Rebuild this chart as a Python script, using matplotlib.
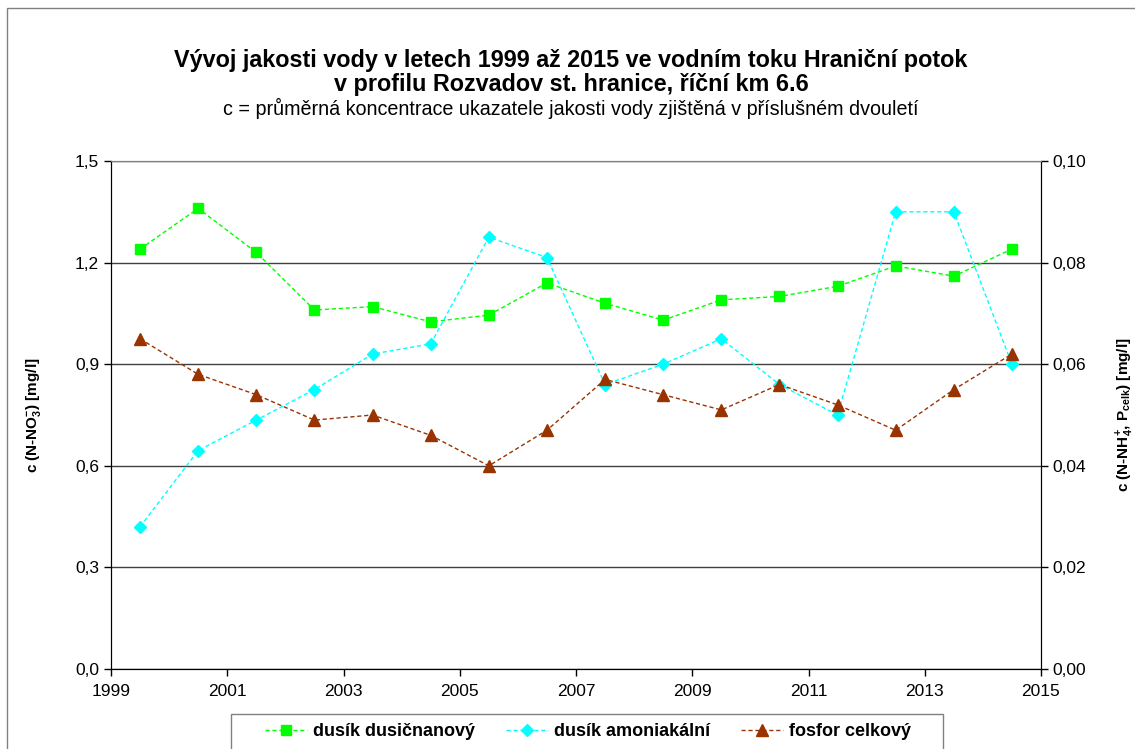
import matplotlib
matplotlib.use("Agg")
import matplotlib.pyplot as plt
from matplotlib.patches import Rectangle
from matplotlib.ticker import FuncFormatter, MultipleLocator

plt.rcParams['font.family'] = ['Liberation Sans', 'DejaVu Sans']
plt.rcParams['mathtext.default'] = 'regular'

years = [1999.5, 2000.5, 2001.5, 2002.5, 2003.5, 2004.5, 2005.5, 2006.5,
         2007.5, 2008.5, 2009.5, 2010.5, 2011.5, 2012.5, 2013.5, 2014.5]
dusicnanovy = [1.24, 1.36, 1.23, 1.06, 1.07, 1.025, 1.045, 1.14,
               1.08, 1.03, 1.09, 1.10, 1.13, 1.19, 1.16, 1.24]
amoniakalni = [0.028, 0.043, 0.049, 0.055, 0.062, 0.064, 0.085, 0.081,
               0.056, 0.060, 0.065, 0.056, 0.050, 0.090, 0.090, 0.060]
fosfor = [0.065, 0.058, 0.054, 0.049, 0.050, 0.046, 0.040, 0.047,
          0.057, 0.054, 0.051, 0.056, 0.052, 0.047, 0.055, 0.062]

xticks = list(range(1999, 2016, 2))

W, H = 1135, 749
fig = plt.figure(figsize=(W/100, H/100), dpi=100)
ax = fig.add_axes([111/W, 1-669/H, 930/W, 508/H])
ax2 = ax.twinx()

dash = (0, (3, 2))
l1, = ax.plot(years, dusicnanovy, color='#00FF00', linestyle=dash, lw=1,
              marker='s', ms=7.5, label='dusík dusičnanový', zorder=3)
l2, = ax2.plot(years, amoniakalni, color='#00FFFF', linestyle=dash, lw=1,
               marker='D', ms=6, label='dusík amoniakální', zorder=3)
l3, = ax2.plot(years, fosfor, color='#993300', linestyle=dash, lw=1,
               marker='^', ms=8, label='fosfor celkový', zorder=3)

ax.set_xlim(1999, 2015)
ax.set_ylim(0, 1.5)
ax2.set_ylim(0, 0.10)
ax.set_xticks(xticks)
ax.yaxis.set_major_locator(MultipleLocator(0.3))
ax2.yaxis.set_major_locator(MultipleLocator(0.02))
ax.yaxis.set_major_formatter(FuncFormatter(lambda v, p: f"{v:.1f}".replace('.', ',')))
ax2.yaxis.set_major_formatter(FuncFormatter(lambda v, p: f"{v:.2f}".replace('.', ',')))
ax.grid(axis='y', color='#404040', lw=1)
ax.set_axisbelow(True)

for a in (ax, ax2):
    a.tick_params(direction='out', length=5, width=1, labelsize=12.5, colors='black')
    a.spines['top'].set_color('#808080')
    a.spines['left'].set_color('black')
    a.spines['right'].set_color('black')
    a.spines['bottom'].set_color('black')
ax.tick_params(axis='x', pad=6)

ax.set_ylabel('c (N-NO$_3^{-}$) [mg/l]', fontsize=11, fontweight='bold')
ax.yaxis.set_label_coords(-68/930, 0.5)
ax2.set_ylabel('c (N-NH$_4^{+}$, P$_{celk}$) [mg/l]', fontsize=11, fontweight='bold')
ax2.yaxis.set_label_coords(1 + 74/930, 0.5)

fig.text(0.503, 1-60/H, 'Vývoj jakosti vody v letech 1999 až 2015 ve vodním toku Hraniční potok',
         ha='center', va='center', fontsize=16.8, fontweight='bold')
fig.text(0.503, 1-84/H, 'v profilu Rozvadov st. hranice, říční km 6.6',
         ha='center', va='center', fontsize=16.8, fontweight='bold')
fig.text(0.503, 1-108/H, 'c = průměrná koncentrace ukazatele jakosti vody zjištěná v příslušném dvouletí',
         ha='center', va='center', fontsize=14.2)

# legend contents without frame, frame drawn separately
leg = fig.legend(handles=[l1, l2, l3], loc='center', bbox_to_anchor=(588/W, 1-732/H),
                 ncol=3, frameon=False, prop={'size': 13, 'weight': 'bold'},
                 columnspacing=1.75, handlelength=2.3, borderpad=0.2, handletextpad=0.33)
fig.patches.append(Rectangle((231/W, -0.05), 712/W, 0.05 + 1 - 714/H, fill=False,
                             edgecolor='#808080', lw=1, transform=fig.transFigure))

fig.patches.append(Rectangle((7/W, -0.1), 1.1, 1.1 - 8/H, fill=False,
                             edgecolor='#808080', lw=1, transform=fig.transFigure))

fig.savefig('out.png', dpi=100)
